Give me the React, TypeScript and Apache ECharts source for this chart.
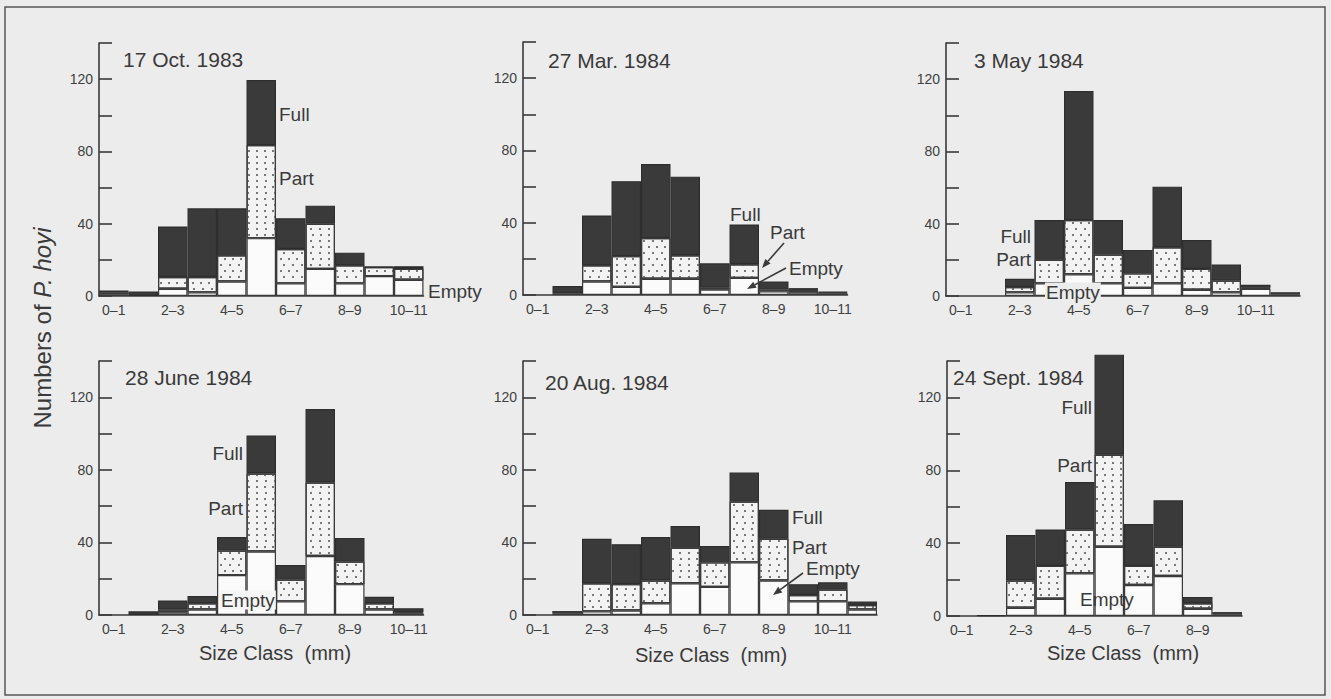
import React, { useEffect, useRef } from "react";
import * as echarts from "echarts";

// ---- data ----
const sizeClasses = ["0–1", "1–2", "2–3", "3–4", "4–5", "5–6", "6–7", "7–8", "8–9", "9–10", "10–11", "11–12"];
const yTicks = [0, 40, 80, 120];

const dates = ["17 Oct. 1983", "27 Mar. 1984", "3 May 1984", "28 June 1984", "20 Aug. 1984", "24 Sept. 1984"];

// counts per size class: Empty (bottom), Part (middle), Full (top)
const oct83Empty = [1, 0, 4, 2, 8, 32, 7, 15, 7, 11, 9];
const oct83Part = [1, 0, 6.5, 8.5, 14.5, 51.5, 19, 25, 10, 5, 6];
const oct83Full = [1, 2.5, 28, 38, 26, 36, 17, 10, 7, 0.3, 1.5];

const mar84Empty = [0, 1, 7.5, 4.5, 9, 9, 3, 9.5, 2, 1.5, 1];
const mar84Part = [0, 0, 9, 17, 22.5, 13, 1, 7.5, 1, 1.3, 0.5];
const mar84Full = [0, 4, 27.5, 41.5, 41, 43.5, 13.5, 22, 4.5, 1, 0.3];

const may84Empty = [0, 0, 2, 7, 12, 7, 4.5, 7, 3.5, 2, 4, 1];
const may84Part = [0, 0, 3, 13, 30, 16, 8, 20, 11.5, 6.5, 0.5, 1];
const may84Full = [0, 0, 4.5, 22, 71.5, 19, 13, 33.5, 16, 9, 1.7, 0];

const jun84Empty = [0, 0, 1.5, 3, 22, 35, 7.5, 32.5, 17, 3, 1];
const jun84Part = [0, 0, 1.5, 3.5, 13.5, 43, 12, 40.5, 12.5, 3.5, 0.5];
const jun84Full = [0, 2, 5, 4, 7.5, 21, 8, 40.5, 13, 3.5, 2.2];

const aug84Empty = [0, 1, 2, 2.5, 6.5, 17.5, 15.5, 29, 19, 7.5, 7.5, 3];
const aug84Part = [0, 1.2, 15.5, 14.5, 12.5, 19.5, 13.5, 33.5, 23, 3.5, 6.5, 2.5];
const aug84Full = [0, 0, 24.5, 22, 24, 12, 9, 16, 16, 6, 4, 2];

const sep84Empty = [0, 0, 4.5, 9.5, 23.5, 38, 17, 22, 4, 1];
const sep84Part = [0, 0, 15, 18, 24, 50.5, 10.5, 16, 3, 1.2];
const sep84Full = [0, 0.5, 25, 20, 26, 55, 23, 25.5, 3.5, 0];

const panelEmpty = [oct83Empty, mar84Empty, may84Empty, jun84Empty, aug84Empty, sep84Empty];
const panelPart = [oct83Part, mar84Part, may84Part, jun84Part, aug84Part, sep84Part];
const panelFull = [oct83Full, mar84Full, may84Full, jun84Full, aug84Full, sep84Full];

// ---- layout (pixels) ----
const grids = [
  { left: 99, top: 43, zero: 296 },
  { left: 523, top: 42, zero: 295 },
  { left: 946, top: 43, zero: 296 },
  { left: 99, top: 361, zero: 615 },
  { left: 523, top: 361, zero: 615 },
  { left: 947, top: 361, zero: 616 },
];
const BIN_PX = 29.5;
const FONT = "'Liberation Sans', Arial, Helvetica, sans-serif";
const INK = "#3a3a3a";
const BG = "#ececec";

function arrow(x1: number, y1: number, x2: number, y2: number) {
  const a = Math.atan2(y2 - y1, x2 - x1);
  const L = 9, W = 3.5;
  const bx = x2 - L * Math.cos(a), by = y2 - L * Math.sin(a);
  return [
    { type: "line", z: 10, shape: { x1, y1, x2: bx, y2: by }, style: { stroke: INK, lineWidth: 1.6 } },
    {
      type: "polygon",
      z: 10,
      shape: { points: [[x2, y2], [bx + W * Math.sin(a), by - W * Math.cos(a)], [bx - W * Math.sin(a), by + W * Math.cos(a)]] },
      style: { fill: INK },
    },
  ];
}

function label(text: string, x: number, y: number, align: string = "left", size = 19, bg?: string) {
  const style: any = { text, fill: INK, font: `${size}px ${FONT}`, align, verticalAlign: "middle" };
  if (bg) {
    style.backgroundColor = bg;
    style.padding = [0, 1];
  }
  return { type: "text", x, y, z: 10, style };
}

export default function App() {
  const ref = useRef<HTMLDivElement>(null);
  useEffect(() => {
    if (!ref.current) return;
    const chart = echarts.init(ref.current, null, { renderer: "svg" });
    const nz = (arr: number[]) => arr.map((v) => (v === 0 ? null : v));

    const gridOpt: any[] = [];
    const xAxes: any[] = [];
    const yAxes: any[] = [];
    const series: any[] = [];

    grids.forEach((g, i) => {
      const n = panelEmpty[i].length;
      gridOpt.push({ left: g.left, top: g.top, width: n * BIN_PX, height: g.zero - g.top, containLabel: false });
      xAxes.push({
        type: "category",
        gridIndex: i,
        data: sizeClasses.slice(0, n),
        boundaryGap: true,
        axisLine: { lineStyle: { color: INK, width: 1.6 } },
        axisTick: { show: false },
        axisLabel: { interval: 1, margin: 7, color: "#3f3f3f", fontSize: 14, fontFamily: FONT },
        splitLine: { show: false },
      });
      yAxes.push({
        type: "value",
        gridIndex: i,
        min: 0,
        max: 140,
        interval: 20,
        axisLine: { show: true, lineStyle: { color: INK, width: 1.6 } },
        axisTick: { show: true, inside: true, length: 13, lineStyle: { color: INK, width: 1.6 } },
        axisLabel: {
          margin: 6,
          color: "#3f3f3f",
          fontSize: 14,
          fontFamily: FONT,
          formatter: (v: number) => (yTicks.includes(v) ? String(v) : ""),
        },
        splitLine: { show: false },
      });
      const common = {
        type: "bar",
        xAxisIndex: i,
        yAxisIndex: i,
        stack: "s" + i,
        barWidth: "100%",
        barCategoryGap: "0%",
        clip: false,
      };
      series.push({
        ...common,
        name: "Empty",
        data: nz(panelEmpty[i]),
        itemStyle: { color: "#fbfbfb", borderColor: INK, borderWidth: 1.2 },
      });
      series.push({
        ...common,
        name: "Part",
        data: nz(panelPart[i]),
        itemStyle: {
          color: "#f3f3f3",
          borderColor: INK,
          borderWidth: 1.2,
          decal: {
            symbol: "rect",
            symbolSize: 1,
            color: "#777",
            dashArrayX: [[1.4, 6], [0, 3.5, 1.4, 2.5]],
            dashArrayY: [1.4, 3.5],
            rotation: 0,
          },
        },
      });
      series.push({
        ...common,
        name: "Full",
        data: nz(panelFull[i]),
        itemStyle: { color: "#3a3a3a", borderColor: "#2e2e2e", borderWidth: 1.2 },
      });
    });

    const titlePos = [
      [123, 59], [548, 60], [974, 60], [125, 377], [545, 382], [953, 377],
    ];

    const graphics: any[] = [
      { type: "rect", shape: { x: 5, y: 7, width: 1320, height: 688 }, style: { fill: "none", stroke: "#555", lineWidth: 1.5 }, z: 0 },
      ...dates.map((d, i) => label(d, titlePos[i][0], titlePos[i][1], "left", 21)),
      // 17 Oct
      label("Full", 279, 114), label("Part", 279, 178), label("Empty", 428, 291),
      // 27 Mar
      label("Full", 730, 214), label("Part", 770, 232), label("Empty", 789, 268),
      ...arrow(784, 243, 762, 268), ...arrow(786, 268, 747, 289),
      // 3 May
      label("Full", 1031, 236, "right"), label("Part", 1031, 259, "right"), label("Empty", 1045, 292, "left", 19, BG),
      // 28 June
      label("Full", 243, 453, "right"), label("Part", 243, 508, "right"), label("Empty", 220, 600, "left", 19, "#f6f6f6"),
      // 20 Aug
      label("Full", 792, 517), label("Part", 792, 547), label("Empty", 806, 568),
      ...arrow(803, 573, 773, 595),
      // 24 Sept
      label("Full", 1092, 407, "right"), label("Part", 1092, 465, "right"), label("Empty", 1080, 599),
      // axis names
      label("Size Class  (mm)", 275, 653, "center", 20),
      label("Size Class  (mm)", 711, 655, "center", 20),
      label("Size Class  (mm)", 1123, 653, "center", 20),
      {
        type: "text",
        x: 42,
        y: 328,
        rotation: Math.PI / 2,
        style: {
          text: "{a|Numbers of }{b|P. hoyi}",
          align: "center",
          verticalAlign: "middle",
          rich: {
            a: { fontSize: 24, fontFamily: FONT, fill: INK, color: INK },
            b: { fontSize: 24, fontFamily: FONT, fontStyle: "italic", fill: INK, color: INK },
          },
        },
      },
    ];

    chart.setOption({
      animation: false,
      backgroundColor: BG,
      grid: gridOpt,
      xAxis: xAxes,
      yAxis: yAxes,
      series,
      graphic: graphics,
    });
    return () => chart.dispose();
  }, []);
  return <div ref={ref} style={{ position: "fixed", left: 0, top: 0, width: 1331, height: 699 }} />;
}
